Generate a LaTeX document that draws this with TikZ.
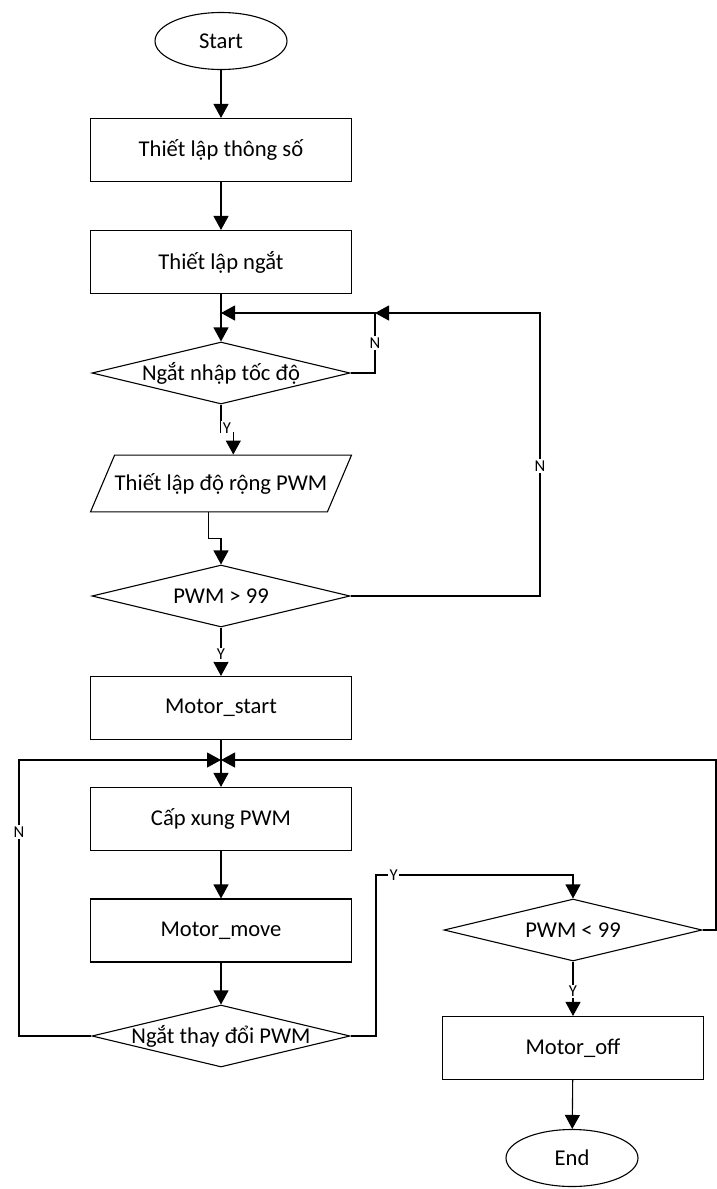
\documentclass[tikz,border=0pt]{standalone}
\usepackage{fontspec}
\setmainfont{Carlito}
\usetikzlibrary{arrows.meta,shapes.geometric}

\begin{document}
\begin{tikzpicture}[x=0.5pt, y=-0.5pt, >={Triangle[length=7pt,width=7.5pt]}, line width=0.55pt,
    txt/.style={font=\fontsize{11.3}{13}\selectfont},
    proc/.style={txt, draw, rectangle, minimum width=130.5pt, minimum height=31.5pt, inner sep=0pt},
    term/.style={txt, draw, ellipse, minimum width=66pt, minimum height=28.5pt, inner sep=0pt},
    decide/.style={txt, draw, diamond, aspect=4, minimum width=129pt, minimum height=31pt, inner sep=0pt},
    io/.style={txt, draw, trapezium, trapezium left angle=67, trapezium right angle=113,
        trapezium stretches body, minimum width=130.5pt, inner xsep=0pt, inner ysep=9pt},
    lbl/.style={fill=white, inner sep=0.8pt, font=\fontsize{8.3}{9}\selectfont}]
    \useasboundingbox (0,0) rectangle (717,1189);

    % Main column
    \node[term] (start) at (221,41) {Start};
    \node[proc] (par) at (221,150) {Thiết lập thông số};
    \node[proc] (intr) at (221,262) {Thiết lập ngắt};
    \node[decide] (chkspd) at (221,373) {\makebox[0pt]{Ngắt nhập tốc độ}};
    \node[io] (pwmset) at (221,483.5) {\makebox[0pt]{Thiết lập độ rộng PWM}};
    \node[decide] (chkmax) at (221,596) {\makebox[0pt]{PWM > 99}};
    \node[proc] (mstart) at (221,708) {Motor\_start};
    \node[proc] (pulse) at (221,819) {Cấp xung PWM};
    \node[proc] (mmove) at (221,930.5) {Motor\_move};
    \node[decide] (chgpwm) at (221,1036) {\makebox[0pt]{Ngắt thay đổi PWM}};

    % Right column
    \node[decide] (chkmin) at (573,930) {\makebox[0pt]{PWM < 99}};
    \node[proc] (moff) at (573,1048) {Motor\_off};
    \node[term] (stop) at (572,1158) {End};

    % Junctions and corners
    \coordinate (j1) at (221,313);
    \coordinate (n1) at (375,313);
    \coordinate (n2) at (540,313);
    \coordinate (j2) at (221,760);
    \coordinate (nl) at (19,760);
    \coordinate (yr) at (376,875);
    \coordinate (rr) at (716,760);

    % Straight flow
    \draw[->] (start) -- (par);
    \draw[->] (par) -- (intr);
    \draw[->] (intr) -- (chkspd);
    \draw[->] (chkspd.south) -- node[lbl, pos=0.85, xshift=3pt] {Y} ++(0,28) -| (pwmset.top side);
    \draw[->] (pwmset.bottom side) -- ++(0,26) -| (chkmax.north);
    \draw[->] (chkmax) -- node[lbl, pos=0.56] {Y} (mstart);
    \draw[->] (mstart) -- (pulse);
    \draw[->] (pulse) -- (mmove);
    \draw[->] (mmove) -- (chgpwm);
    \draw[->] (chkmin) -- node[lbl, pos=0.55] {Y} (moff);
    \draw[->] (moff) -- (stop);

    % Loops back
    \draw[->] (chkspd.east) -| node[lbl, pos=0.75] {N} (n1) -- (j1);
    \draw[->] (chkmax.east) -| node[lbl, pos=0.73] {N} (n2) -- (n1);
    \draw[->] (chgpwm.west) -| node[lbl, pos=0.87] {N} (nl) -- (j2);
    \draw[->] (chgpwm.east) -| (yr) -- node[lbl, pos=0.09] {Y} (yr -| chkmin.north) -- (chkmin.north);
    \draw[->] (chkmin.east) -| (rr) -- (j2);
\end{tikzpicture}
\end{document}
